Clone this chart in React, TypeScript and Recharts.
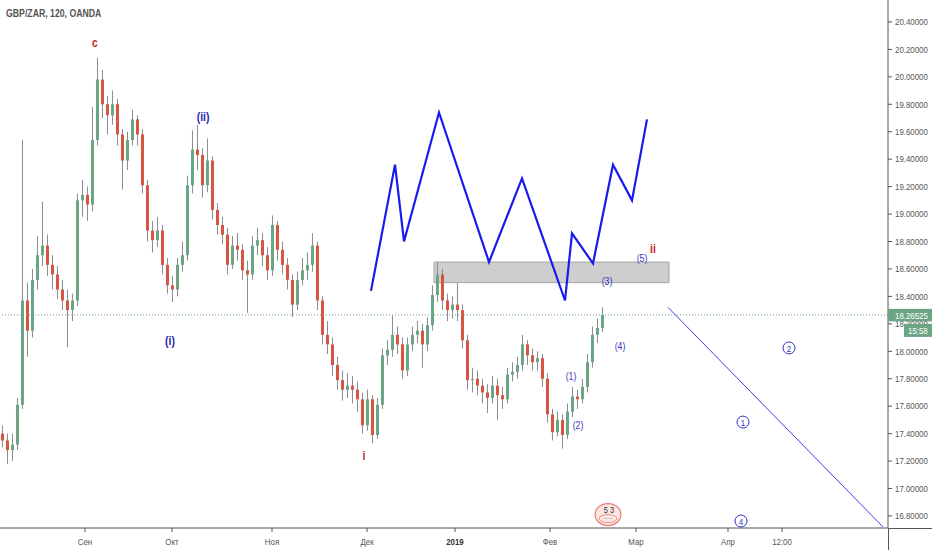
import React from 'react';
import { ComposedChart, Bar, Line, XAxis, YAxis, ReferenceLine, ReferenceArea, Scatter } from 'recharts';

// ---- data ----
const firstOpen = 17.4;
const closes = [
  17.35, 17.28, 17.32, 17.61, 18.37, 18.15, 18.52, 18.70, 18.77, 18.63,
  18.56, 18.45, 18.37, 18.30, 18.37, 19.10, 19.14, 19.07, 19.54, 19.98,
  19.80, 19.72, 19.80, 19.58, 19.39, 19.54, 19.69, 19.58, 19.21, 18.88,
  18.81, 18.88, 18.63, 18.48, 18.45, 18.63, 18.70, 19.21, 19.47, 19.43,
  19.21, 19.39, 19.03, 18.92, 18.85, 18.63, 18.77, 18.74, 18.59, 18.56,
  18.77, 18.81, 18.70, 18.59, 18.92, 18.74, 18.63, 18.52, 18.34, 18.52,
  18.59, 18.63, 18.77, 18.37, 18.12, 18.05, 17.90, 17.79, 17.72, 17.75,
  17.72, 17.65, 17.46, 17.65, 17.39, 17.61, 17.97, 18.01, 18.12, 18.05,
  17.86, 18.05, 18.12, 18.15, 18.05, 18.19, 18.41, 18.56, 18.37, 18.30,
  18.34, 18.30, 18.08, 17.79, 17.80, 17.75, 17.70, 17.66, 17.75, 17.68,
  17.65, 17.83, 17.85, 17.90, 18.05, 17.97, 17.92, 17.95, 17.80, 17.54,
  17.41, 17.50, 17.39, 17.56, 17.67, 17.65, 17.74, 17.92, 18.12, 18.17,
  18.265,
];
const highs = [
  17.46, 17.40, 17.40, 17.66, 19.54, 18.50, 18.60, 18.84, 19.09, 18.85,
  18.70, 18.62, 18.52, 18.45, 18.42, 19.15, 19.25, 19.20, 19.78, 20.14,
  20.05, 19.86, 19.90, 19.84, 19.62, 19.60, 19.76, 19.72, 19.62, 19.25,
  18.95, 18.98, 18.92, 18.68, 18.55, 18.68, 18.80, 19.28, 19.61, 19.65,
  19.48, 19.55, 19.42, 19.08, 18.98, 18.90, 18.84, 18.86, 18.78, 18.66,
  18.84, 18.90, 18.86, 18.76, 18.99, 18.95, 18.80, 18.68, 18.56, 18.58,
  18.68, 18.72, 18.86, 18.80, 18.40, 18.22, 18.10, 17.96, 17.86, 17.84,
  17.82, 17.78, 17.70, 17.72, 17.68, 17.66, 18.02, 18.08, 18.26, 18.18,
  18.10, 18.10, 18.18, 18.22, 18.20, 18.25, 18.48, 18.65, 18.60, 18.42,
  18.40, 18.50, 18.34, 18.12, 17.88, 17.86, 17.80, 17.76, 17.82, 17.80,
  17.74, 17.88, 17.92, 17.96, 18.12, 18.08, 18.02, 18.00, 17.98, 17.84,
  17.58, 17.56, 17.54, 17.62, 17.74, 17.72, 17.80, 17.98, 18.18, 18.24,
  18.32,
];
const lows = [
  17.30, 17.18, 17.20, 17.28, 17.58, 17.96, 18.10, 18.45, 18.62, 18.55,
  18.45, 18.38, 18.30, 18.03, 18.22, 18.33, 18.98, 18.95, 19.02, 19.50,
  19.70, 19.58, 19.65, 19.50, 19.18, 19.32, 19.50, 19.50, 19.15, 18.80,
  18.72, 18.76, 18.56, 18.42, 18.36, 18.40, 18.58, 18.66, 19.15, 19.32,
  19.12, 19.16, 18.96, 18.85, 18.78, 18.56, 18.60, 18.66, 18.52, 18.28,
  18.52, 18.70, 18.62, 18.52, 18.55, 18.66, 18.56, 18.45, 18.25, 18.30,
  18.48, 18.52, 18.58, 18.30, 18.05, 17.98, 17.82, 17.72, 17.64, 17.66,
  17.62, 17.56, 17.40, 17.42, 17.33, 17.36, 17.58, 17.90, 17.96, 17.98,
  17.80, 17.82, 18.00, 18.06, 17.88, 18.00, 18.15, 18.36, 18.30, 18.22,
  18.24, 18.22, 18.02, 17.72, 17.70, 17.68, 17.62, 17.55, 17.62, 17.50,
  17.58, 17.62, 17.78, 17.80, 17.86, 17.90, 17.86, 17.86, 17.74, 17.48,
  17.35, 17.38, 17.29, 17.36, 17.52, 17.58, 17.62, 17.70, 17.88, 18.06,
  18.14,
];

const zigzagX = [74.2, 79.0, 80.8, 87.8, 97.8, 104.4, 113.0, 114.4, 118.6, 122.6, 126.4, 129.4];
const zigzagY = [18.44, 19.36, 18.80, 19.74, 18.65, 19.26, 18.37, 18.86, 18.64, 19.36, 19.10, 19.69];

const trendX = [133.6, 176.6];
const trendY = [18.32, 16.72];

const zoneX = [86.8, 133.8];
const zoneY = [18.5, 18.65];

const lastPrice = 18.26525;
const lastPriceText = '18.26525';
const countdownText = '15:58';

const yTicks = [16.8, 17.0, 17.2, 17.4, 17.6, 17.8, 18.0, 18.2, 18.4, 18.6, 18.8, 19.0, 19.2, 19.4, 19.6, 19.8, 20.0, 20.2, 20.4];
const xTicks = [17, 34.4, 54.4, 73.4, 91, 110, 127.2, 145.6, 156.4];
const xTickLabels = ['Сен', 'Окт', 'Ноя', 'Дек', '2019', 'Фев', 'Мар', 'Апр', '12:00'];

const waveLabels = [
  { x: 19.0, y: 20.25, text: 'c', kind: 'major-red' },
  { x: 40.6, y: 19.71, text: '(ii)', kind: 'major-blue' },
  { x: 34.0, y: 18.075, text: '(i)', kind: 'major-blue' },
  { x: 72.8, y: 17.237, text: 'i', kind: 'major-red' },
  { x: 130.6, y: 18.745, text: 'ii', kind: 'major-red' },
  { x: 128.4, y: 18.68, text: '(5)', kind: 'minor' },
  { x: 121.4, y: 18.512, text: '(3)', kind: 'minor' },
  { x: 124.0, y: 18.038, text: '(4)', kind: 'minor' },
  { x: 114.2, y: 17.82, text: '(1)', kind: 'minor' },
  { x: 115.6, y: 17.463, text: '(2)', kind: 'minor' },
  { x: 148.6, y: 17.484, text: '1', kind: 'circle' },
  { x: 157.8, y: 18.024, text: '2', kind: 'circle' },
  { x: 148.2, y: 16.763, text: '4', kind: 'circle' },
  { x: 121.6, y: 16.81, text: '5 3', kind: 'stamp' },
];

const candles = closes.map((c, i) => ({
  x: i + 0.5,
  open: i === 0 ? firstOpen : closes[i - 1],
  close: c,
  high: highs[i],
  low: lows[i],
  range: [lows[i], highs[i]],
}));
const zigzag = zigzagX.map((x, i) => ({ x, y: zigzagY[i] }));
const trend = trendX.map((x, i) => ({ x, y: trendY[i] }));

const FONT = '"Liberation Sans", Arial, sans-serif';
const SQ = 0.83; // horizontal squeeze of text to match the reference's narrow face
const UP = '#6ba583';
const DOWN = '#d75442';

const NText = (p: any) => {
  const { x, y, children, anchor = 'start', ...rest } = p;
  return (
    <text transform={`translate(${x},${y}) scale(${SQ},1)`} x={0} y={0} textAnchor={anchor}
      dominantBaseline="central" fontFamily={FONT} {...rest}>{children}</text>
  );
};

const Candle = (props: any) => {
  const { x, y, width, height, payload } = props;
  if (!payload || x == null || y == null) return null;
  const { open, close, high, low } = payload;
  const h = Math.abs(height);
  const top = height < 0 ? y + height : y;
  const ratio = h / (high - low);
  const yO = top + (high - open) * ratio;
  const yC = top + (high - close) * ratio;
  const up = close >= open;
  const cx = x + width / 2;
  const bw = 3;
  return (
    <g>
      <line x1={cx} x2={cx} y1={top} y2={top + h} stroke="#8b8b8d" strokeWidth={1} />
      <rect x={cx - bw / 2} y={Math.min(yO, yC)} width={bw} height={Math.max(1, Math.abs(yC - yO))} fill={up ? UP : DOWN} />
    </g>
  );
};

const WaveLabel = (props: any) => {
  const { cx, cy, payload } = props;
  if (cx == null || cy == null || !payload) return null;
  const { text, kind } = payload;
  if (kind === 'major-red' || kind === 'major-blue') {
    return (
      <NText x={cx} y={cy} anchor="middle" fontWeight="bold" fontSize={12.5}
        fill={kind === 'major-red' ? '#c4231b' : '#1c1cab'}>{text}</NText>
    );
  }
  if (kind === 'minor') {
    return <NText x={cx} y={cy} anchor="middle" fontSize={10.5} fill="#3a3ac4">{text}</NText>;
  }
  if (kind === 'circle') {
    return (
      <g>
        <circle cx={cx} cy={cy} r={6} fill="none" stroke="#3030c8" strokeWidth={1} />
        <NText x={cx} y={cy + 0.5} anchor="middle" fontSize={9.5} fill="#3030c8">{text}</NText>
      </g>
    );
  }
  return (
    <g>
      <ellipse cx={cx} cy={cy} rx={13} ry={11} fill="#fde6e2" stroke="#e77b70" strokeWidth={1.2} />
      <ellipse cx={cx} cy={cy + 4} rx={9} ry={4} fill="none" stroke="#e77b70" strokeWidth={0.8} />
      <NText x={cx + 1} y={cy - 4} anchor="middle" fontSize={9} fill="#333">{text}</NText>
      <NText x={cx} y={cy + 4} anchor="middle" fontSize={5} fill="#5a5ad0">◦◦◦◦◦◦</NText>
    </g>
  );
};

const XTick = (props: any) => {
  const { x, y, index } = props;
  const label = xTickLabels[index] ?? '';
  return (
    <NText x={x} y={y + 5} anchor="middle" fontSize={9.5}
      fontWeight={label === '2019' ? 'bold' : 'normal'} fill={label === '2019' ? '#333' : '#555'}>{label}</NText>
  );
};

const YTick = (props: any) => {
  const { x, y, payload } = props;
  const v = payload?.value;
  if (v === lastPrice) {
    const left = x - 7;
    return (
      <g>
        <rect x={left} y={y - 6} width={44} height={12.5} fill={UP} />
        <NText x={x} y={y + 0.5} fontSize={9.5} fill="#ffffff">{lastPriceText}</NText>
        <rect x={left + 16} y={y + 9} width={28} height={13} fill={UP} />
        <NText x={left + 20} y={y + 15.5} fontSize={9.5} fill="#ffffff">{countdownText}</NText>
      </g>
    );
  }
  return <NText x={x} y={y} fontSize={9.5} fill="#555">{Number(v).toFixed(5)}</NText>;
};

export default function App() {
  return (
    <div style={{ position: 'absolute', left: 0, top: 0, width: 932, height: 550, background: '#fff', fontFamily: FONT }}>
      <ComposedChart width={932} height={550} data={candles} margin={{ top: 0, right: 0, bottom: 0, left: 0 }}>
        <XAxis dataKey="x" type="number" domain={[0, 177.6]} allowDataOverflow ticks={xTicks}
          interval={0} height={22} tickSize={4} tickMargin={5} stroke="#555" tick={<XTick />} />
        <YAxis type="number" orientation="right" domain={[16.712, 20.56]} allowDataOverflow ticks={[...yTicks, lastPrice]}
          interval={0} width={44} tickSize={4} tickMargin={3} stroke="#555" tick={<YTick />} />
        <ReferenceArea x1={zoneX[0]} x2={zoneX[1]} y1={zoneY[0]} y2={zoneY[1]} fill="#bdbdbd" fillOpacity={0.75}
          stroke="#a5a5a5" strokeWidth={1} ifOverflow="visible" />
        <Bar dataKey="range" barSize={3} shape={<Candle />} isAnimationActive={false} />
        <ReferenceLine y={lastPrice} stroke={UP} strokeDasharray="1 2" strokeWidth={1} />
        <Line data={zigzag} dataKey="y" type="linear" stroke="#1a1aef" strokeWidth={2.2} dot={false}
          activeDot={false} isAnimationActive={false} />
        <Line data={trend} dataKey="y" type="linear" stroke="#3c3cf0" strokeWidth={1} dot={false}
          activeDot={false} isAnimationActive={false} />
        <Scatter data={waveLabels} dataKey="y" shape={<WaveLabel />} isAnimationActive={false} />
      </ComposedChart>
      <div style={{ position: 'absolute', left: 6, top: 7, fontFamily: FONT, fontWeight: 'bold', fontSize: 10.5,
        color: '#555', transform: `scaleX(${SQ})`, transformOrigin: 'left top', whiteSpace: 'nowrap' }}>
        GBP/ZAR, 120, OANDA
      </div>
      <div style={{ position: 'absolute', left: 887.5, top: 528, width: 1, height: 22, background: '#555' }} />
      <div style={{ position: 'absolute', left: 888, top: 528, width: 44, height: 1, background: '#555' }} />
    </div>
  );
}
